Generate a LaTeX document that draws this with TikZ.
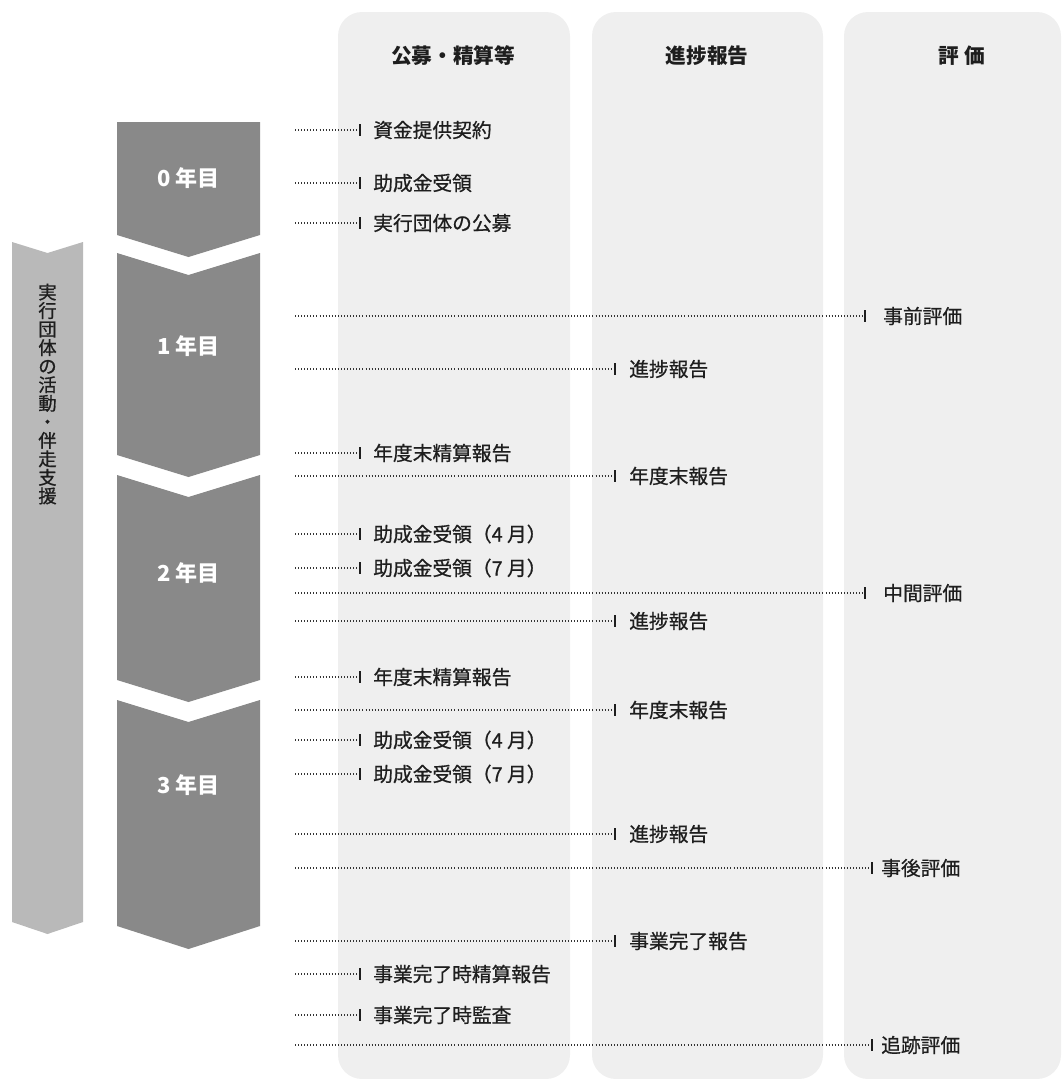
\documentclass[tikz,border=0pt]{standalone}
\usepackage{fontspec}
\setmainfont{Noto Sans CJK JP}
\newfontfamily\jpmed[FakeBold=0.7]{Noto Sans CJK JP}
\usepackage{xcolor}
\usepackage{tikz}
\definecolor{colbg}{HTML}{EFEFEF}
\definecolor{yeargray}{HTML}{898989}
\definecolor{flowgray}{HTML}{B9B9B9}
\definecolor{inkgray}{HTML}{1E1E1E}
\tikzset{
  dotline/.style={draw=black!80, line width=0.8pt, dash pattern=on 0.75pt off 1.55pt},
  tickmark/.style={fill=inkgray, inner sep=0pt, minimum width=1.4pt, minimum height=8.5pt},
  lbl/.style={anchor=west, inner sep=0.75pt, text=inkgray, font=\jpmed\fontsize{14.8}{16}\selectfont},
  colhead/.style={inner sep=0.75pt, text=inkgray, font=\bfseries\fontsize{15.5}{17}\selectfont},
  yearlbl/.style={inner sep=0.75pt, text=white, font=\bfseries\fontsize{16.5}{18}\selectfont},
}
\begin{document}
\begin{tikzpicture}[x=0.75pt,y=0.75pt,yscale=-1,xscale=1]
\useasboundingbox (0,0) rectangle (1062,1079);
%Shape: Rounded Rect [columns]
\fill [colbg, rounded corners=18pt] (338,12) rectangle (570,1079);
\fill [colbg, rounded corners=18pt] (592,12) rectangle (823,1079);
\fill [colbg, rounded corners=18pt] (844,12) rectangle (1061,1079);
% Text Node
\node [colhead] (hfund) at (453,56) {公募・精算等};
% Text Node
\node [colhead] (hprog) at (707,56) {進捗報告};
% Text Node
\node [colhead] (heval) at (962,56) {評 価};
%Shape: Chevron [left band]
\fill [flowgray] (12,242) -- (47.5,253) -- (83,242) -- (83,922) -- (47.5,934) -- (12,922) -- cycle;
% Text Node
\node [inner sep=0pt, align=center, text=inkgray, font=\jpmed\fontsize{13.8}{13.9}\selectfont] (band) at (47.5,394)
  {実\\行\\団\\体\\の\\活\\動\\・\\伴\\走\\支\\援};
%Shape: Chevron [years]
\fill [yeargray] (117,122) -- (260,122) -- (260,235) -- (188.5,257) -- (117,235) -- cycle;
\fill [yeargray] (117,253) -- (188.5,275) -- (260,253) -- (260,455) -- (188.5,477) -- (117,455) -- cycle;
\fill [yeargray] (117,475) -- (188.5,497) -- (260,475) -- (260,680) -- (188.5,702) -- (117,680) -- cycle;
\fill [yeargray] (117,700) -- (188.5,722) -- (260,700) -- (260,926) -- (188.5,949) -- (117,926) -- cycle;
% Text Node
\node [yearlbl] (y0) at (188.5,178) {0 年目};
\node [yearlbl] (y1) at (188.5,346) {1 年目};
\node [yearlbl] (y2) at (188.5,573) {2 年目};
\node [yearlbl] (y3) at (188.5,785) {3 年目};
%Straight Lines [column 1]
\coordinate (f1s) at (295,130);
\node [tickmark] (f1t) at (360,130) {};
\draw [dotline] (f1s) -- (f1t);
\node [lbl] (f1) at (372,130) {資金提供契約};
\coordinate (f2s) at (295,183);
\node [tickmark] (f2t) at (360,183) {};
\draw [dotline] (f2s) -- (f2t);
\node [lbl] (f2) at (372,183) {助成金受領};
\coordinate (f3s) at (295,223);
\node [tickmark] (f3t) at (360,223) {};
\draw [dotline] (f3s) -- (f3t);
\node [lbl] (f3) at (372,223) {実行団体の公募};
\coordinate (f4s) at (295,453);
\node [tickmark] (f4t) at (360,453) {};
\draw [dotline] (f4s) -- (f4t);
\node [lbl] (f4) at (372,453) {年度末精算報告};
\coordinate (f5s) at (295,534);
\node [tickmark] (f5t) at (360,534) {};
\draw [dotline] (f5s) -- (f5t);
\node [lbl] (f5) at (372,534) {助成金受領（4 月）};
\coordinate (f6s) at (295,568);
\node [tickmark] (f6t) at (360,568) {};
\draw [dotline] (f6s) -- (f6t);
\node [lbl] (f6) at (372,568) {助成金受領（7 月）};
\coordinate (f7s) at (295,677);
\node [tickmark] (f7t) at (360,677) {};
\draw [dotline] (f7s) -- (f7t);
\node [lbl] (f7) at (372,677) {年度末精算報告};
\coordinate (f8s) at (295,740);
\node [tickmark] (f8t) at (360,740) {};
\draw [dotline] (f8s) -- (f8t);
\node [lbl] (f8) at (372,740) {助成金受領（4 月）};
\coordinate (f9s) at (295,774);
\node [tickmark] (f9t) at (360,774) {};
\draw [dotline] (f9s) -- (f9t);
\node [lbl] (f9) at (372,774) {助成金受領（7 月）};
\coordinate (f10s) at (295,974);
\node [tickmark] (f10t) at (360,974) {};
\draw [dotline] (f10s) -- (f10t);
\node [lbl] (f10) at (372,974) {事業完了時精算報告};
\coordinate (f11s) at (295,1015);
\node [tickmark] (f11t) at (360,1015) {};
\draw [dotline] (f11s) -- (f11t);
\node [lbl] (f11) at (372,1015) {事業完了時監査};
%Straight Lines [column 2]
\coordinate (p1s) at (295,369);
\node [tickmark] (p1t) at (615,369) {};
\draw [dotline] (p1s) -- (p1t);
\node [lbl] (p1) at (628,369) {進捗報告};
\coordinate (p2s) at (295,476);
\node [tickmark] (p2t) at (615,476) {};
\draw [dotline] (p2s) -- (p2t);
\node [lbl] (p2) at (628,476) {年度末報告};
\coordinate (p3s) at (295,621);
\node [tickmark] (p3t) at (615,621) {};
\draw [dotline] (p3s) -- (p3t);
\node [lbl] (p3) at (628,621) {進捗報告};
\coordinate (p4s) at (295,710);
\node [tickmark] (p4t) at (615,710) {};
\draw [dotline] (p4s) -- (p4t);
\node [lbl] (p4) at (628,710) {年度末報告};
\coordinate (p5s) at (295,834);
\node [tickmark] (p5t) at (615,834) {};
\draw [dotline] (p5s) -- (p5t);
\node [lbl] (p5) at (628,834) {進捗報告};
\coordinate (p6s) at (295,941);
\node [tickmark] (p6t) at (615,941) {};
\draw [dotline] (p6s) -- (p6t);
\node [lbl] (p6) at (628,941) {事業完了報告};
%Straight Lines [column 3]
\coordinate (e1s) at (295,316);
\node [tickmark] (e1t) at (865,316) {};
\draw [dotline] (e1s) -- (e1t);
\node [lbl] (e1) at (882,316) {事前評価};
\coordinate (e2s) at (295,593);
\node [tickmark] (e2t) at (865,593) {};
\draw [dotline] (e2s) -- (e2t);
\node [lbl] (e2) at (882,593) {中間評価};
\coordinate (e3s) at (295,868);
\node [tickmark] (e3t) at (872,868) {};
\draw [dotline] (e3s) -- (e3t);
\node [lbl] (e3) at (880,868) {事後評価};
\coordinate (e4s) at (295,1045);
\node [tickmark] (e4t) at (872,1045) {};
\draw [dotline] (e4s) -- (e4t);
\node [lbl] (e4) at (880,1045) {追跡評価};
\end{tikzpicture}
\end{document}
